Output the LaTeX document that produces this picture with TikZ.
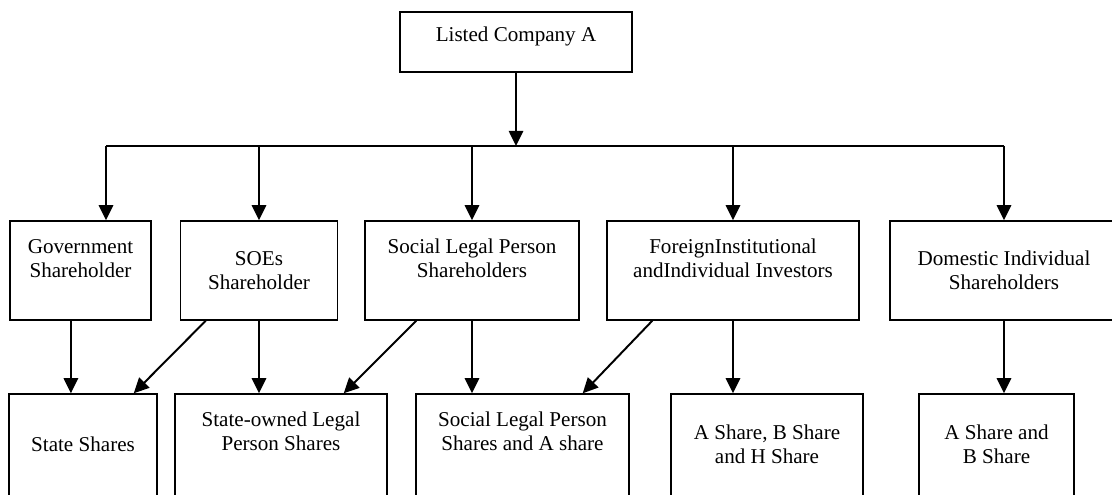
\documentclass[tikz,border=0pt]{standalone}
\usepackage{fontspec}
\setmainfont{Liberation Serif}
\usetikzlibrary{arrows.meta,positioning,calc}

\begin{document}
\begin{tikzpicture}[
  font=\fontsize{15}{17.5}\selectfont,
  >={Triangle[length=0.38cm,width=0.36cm]},
  box/.style={
    draw,
    line width=1pt,
    align=center,
    inner xsep=4pt,
    inner ysep=0pt
  },
  head/.style={box, text height=0.75cm, text depth=0.75cm},
  holder/.style={box, text height=1.42cm, text depth=1.055cm},
  holderlow/.style={box, text height=1.72cm, text depth=0.755cm},
  share/.style={box, text height=1.745cm, text depth=0.905cm},
  sharehigh/.style={box, text height=1.42cm, text depth=1.23cm},
  sharelow/.style={box, text height=1.425cm, text depth=1.225cm},
  bus/.style={line width=1.4pt},
  link/.style={->, line width=1.4pt}
]

\useasboundingbox (0,0) rectangle (27.8,12.35);

% company and shareholders
\node[head, minimum width=5.8cm] (company) at (12.9,11.3) {Listed Company A};

\node[holder, minimum width=3.525cm] (gov) at (2.0125,5.5875)
  {Government\\Shareholder};
\node[holderlow, minimum width=3.925cm] (soe) at (6.475,5.5875)
  {SOEs\\Shareholder};
\node[holder, minimum width=5.35cm] (social) at (11.8,5.5875)
  {Social Legal Person\\Shareholders};
\node[holder, minimum width=6.3cm] (foreign) at (18.325,5.5875)
  {ForeignInstitutional\\andIndividual Investors};
\node[holderlow, minimum width=5.7cm] (domestic) at (25.1,5.5875)
  {Domestic Individual\\Shareholders};

% share types
\node[sharelow, minimum width=3.7cm] (state) at (2.075,1.175)
  {State Shares};
\node[sharehigh, minimum width=5.3cm] (statelegal) at (7.025,1.175)
  {State-owned Legal\\Person Shares};
\node[sharehigh, minimum width=5.325cm] (socialshares) at (13.0625,1.175)
  {Social Legal Person\\Shares and A share};
\node[share, minimum width=4.8cm] (abh) at (19.175,1.175)
  {A Share, B Share\\and H Share};
\node[share, minimum width=3.875cm] (ab) at (24.9125,1.175)
  {A Share and\\B Share};

% distribution bus
\coordinate (busL) at (2.65,8.7);
\coordinate (busR) at (25.1,8.7);
\draw[bus] (busL) -- (busR);
\draw[link] (company.south) -- (company.south |- busL);
\draw[link] (busL) -- (busL |- gov.north);
\draw[link] (soe.north |- busL) -- (soe.north);
\draw[link] (social.north |- busL) -- (social.north);
\draw[link] (foreign.north |- busL) -- (foreign.north);
\draw[link] (busR) -- (busR |- domestic.north);

% holdings
\draw[link] ([xshift=-0.24cm]gov.south) -- ([xshift=-0.24cm]gov.south |- state.north);
\draw[link] ([xshift=0.65cm]soe.south west) -- ([xshift=-0.6cm]state.north east);
\draw[link] (soe.south) -- (soe.south |- statelegal.north);
\draw[link] ([xshift=1.3cm]social.south west) -- ([xshift=-1.1cm]statelegal.north east);
\draw[link] (social.south) -- (social.south |- socialshares.north);
\draw[link] ([xshift=1.15cm]foreign.south west) -- ([xshift=-1.175cm]socialshares.north east);
\draw[link] (foreign.south) -- (foreign.south |- abh.north);
\draw[link] (domestic.south) -- (domestic.south |- ab.north);

\end{tikzpicture}
\end{document}
